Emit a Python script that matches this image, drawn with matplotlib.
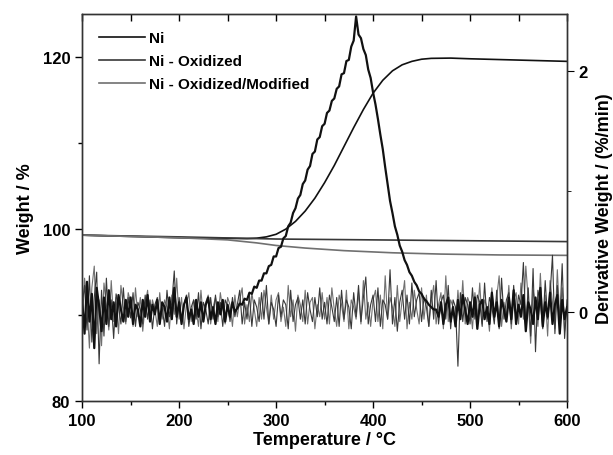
import numpy as np
import matplotlib
matplotlib.use("Agg")
import matplotlib.pyplot as plt
from matplotlib.ticker import MultipleLocator

plt.rcParams['font.family'] = ['Liberation Sans', 'DejaVu Sans']
plt.rcParams['font.weight'] = 'bold'
plt.rcParams['axes.labelweight'] = 'bold'

# ---- weight curves (left axis) ----
temp_ni = [100, 150, 200, 250, 270, 280, 290, 300, 310, 320, 330, 340, 350, 360, 370,
           380, 390, 400, 410, 420, 430, 440, 450, 460, 480, 500, 550, 600]
weight_ni = [99.3, 99.15, 99.0, 98.92, 98.9, 98.95, 99.1, 99.4, 100.0, 100.9, 102.1,
             103.6, 105.4, 107.4, 109.6, 111.8, 113.9, 115.8, 117.3, 118.4, 119.1,
             119.5, 119.75, 119.85, 119.88, 119.8, 119.65, 119.5]

temp_ox = [100, 200, 300, 400, 500, 600]
weight_ox = [99.3, 99.1, 98.85, 98.75, 98.65, 98.55]

temp_mod = [100, 150, 200, 250, 280, 300, 330, 370, 420, 470, 530, 600]
weight_mod = [99.3, 99.15, 99.0, 98.75, 98.4, 98.1, 97.8, 97.5, 97.25, 97.1, 97.0, 96.95]

# ---- derivative curves (right axis), sampled every 2.5 C from 100 to 600 ----
deriv_temp = np.linspace(100, 600, 201)

deriv_ni = [
    # 100 - 257.5
    0.10, -0.18, 0.25, -0.08, 0.15, -0.30, 0.20, 0.05, -0.16, 0.12,
    -0.10, 0.18, -0.06, 0.08, -0.12, 0.14, 0.02, -0.08, 0.10, -0.04,
    0.12, -0.10, 0.06, 0.02, -0.12, 0.10, -0.04, 0.14, -0.08, 0.06,
    -0.02, 0.10, -0.10, 0.08, 0.04, -0.08, 0.12, -0.06, 0.20, -0.04,
    0.08, -0.10, 0.06, 0.12, -0.06, 0.02, -0.10, 0.10, -0.04, 0.08,
    -0.08, 0.06, 0.12, -0.06, 0.04, -0.10, 0.08, -0.02, 0.10, -0.08,
    0.06, -0.04, 0.08, 0.00,
    # 260 - 465 (oxidation peak)
    0.03, 0.07, 0.06, 0.11, 0.10, 0.16, 0.15, 0.21, 0.20, 0.26,
    0.26, 0.32, 0.32, 0.38, 0.39, 0.46, 0.46, 0.53, 0.54, 0.61,
    0.63, 0.71, 0.74, 0.82, 0.86, 0.94, 0.97, 1.06, 1.09, 1.18,
    1.21, 1.31, 1.33, 1.43, 1.45, 1.54, 1.56, 1.65, 1.67, 1.75,
    1.77, 1.85, 1.87, 1.97, 1.98, 2.08, 2.09, 2.20, 2.25, 2.45,
    2.30, 2.27, 2.18, 2.13, 2.01, 1.94, 1.82, 1.72, 1.60, 1.47,
    1.35, 1.20, 1.06, 0.92, 0.82, 0.71, 0.64, 0.55, 0.50, 0.43,
    0.39, 0.33, 0.30, 0.25, 0.22, 0.17, 0.15, 0.11, 0.09, 0.06,
    0.04, 0.02, 0.02,
    # 467.5 - 600
    -0.04, 0.08, -0.10, 0.06, 0.12, -0.08, 0.04, -0.12, 0.10, -0.06,
    0.14, 0.02, -0.10, 0.08, -0.04, 0.12, -0.14, 0.06, 0.10, -0.06,
    0.04, -0.10, 0.16, -0.04, 0.08, -0.12, 0.10, 0.02, -0.08, 0.12,
    -0.06, 0.18, -0.10, 0.06, -0.04, 0.14, -0.16, 0.08, 0.02, -0.10,
    0.12, -0.06, 0.20, -0.12, 0.08, -0.04, 0.16, -0.10, 0.06, 0.14,
    -0.18, 0.10, -0.06, 0.04,
]

deriv_ox = [
    0.05, 0.22, -0.15, 0.30, -0.25, 0.12, 0.33, -0.43, 0.18, -0.20, 0.28, -0.12, 0.10, -0.22, 0.15, 0.05, -0.10, 0.20, -0.08, 0.12,
    -0.05, 0.16, -0.12, 0.08, 0.02, -0.10, 0.14, -0.06, 0.10, -0.14, 0.06, 0.12, -0.08, 0.04, -0.12, 0.18, -0.04, 0.08, 0.34, -0.10,
    0.12, -0.08, 0.06, 0.14, -0.12, 0.04, 0.10, -0.06, 0.16, -0.14, 0.08, 0.02, -0.10, 0.12, -0.06, 0.14, -0.04, 0.08, -0.12, 0.10,
    0.05, -0.08, 0.12, -0.04, 0.06, 0.18, -0.10, 0.08, -0.06, 0.14, -0.12, 0.10, 0.04, -0.08, 0.16, -0.06, 0.22, -0.10, 0.08, 0.02,
    -0.12, 0.14, -0.04, 0.10, 0.06, -0.14, 0.18, -0.08, 0.06, 0.12, -0.06, 0.10, -0.10, 0.16, 0.02, -0.08, 0.12, -0.04, 0.20, -0.06,
    0.08, -0.10, 0.14, 0.04, -0.08, 0.12, -0.12, 0.18, -0.06, 0.10, 0.04, -0.14, 0.16, -0.04, 0.22, -0.08, 0.12, 0.29, -0.10, 0.06,
    0.14, -0.08, 0.20, -0.12, 0.10, 0.06, -0.06, 0.35, -0.10, 0.12, -0.16, 0.08, 0.18, -0.06, 0.14, -0.10, 0.24, -0.04, 0.10, 0.16,
    -0.08, 0.12, 0.04, -0.12, 0.18, -0.06, 0.26, -0.10, 0.08, 0.14, -0.06, 0.22, -0.14, 0.10, 0.04, -0.45, 0.16, -0.08, 0.12, 0.06,
    -0.10, 0.20, -0.06, 0.14, 0.08, -0.12, 0.24, -0.08, 0.12, 0.04, -0.10, 0.18, -0.14, 0.28, -0.06, 0.10, 0.16, -0.10, 0.22, -0.08,
    0.14, 0.06, 0.41, -0.12, 0.20, -0.20, 0.36, -0.33, 0.18, 0.08, -0.14, 0.26, -0.06, 0.14, 0.47, -0.18, 0.22, -0.10, 0.40, -0.22, 0.10,
]

deriv_mod = [
    -0.10, 0.28, 0.08, -0.30, 0.20, 0.38, -0.18, 0.10, -0.28, 0.24, 0.06, -0.15, 0.26, -0.08, 0.12, -0.18, 0.22, 0.04, -0.10, 0.16,
    0.08, -0.12, 0.20, -0.04, 0.12, -0.16, 0.06, 0.18, -0.08, 0.10, 0.02, -0.12, 0.16, -0.06, 0.10, 0.04, -0.14, 0.14, -0.02, 0.28,
    -0.06, 0.12, -0.14, 0.06, 0.16, -0.08, 0.10, 0.02, -0.12, 0.18, -0.06, 0.08, 0.14, -0.10, 0.04, 0.12, -0.08, 0.16, 0.02, -0.10,
    0.12, 0.06, -0.12, 0.14, -0.04, 0.10, 0.20, -0.10, 0.06, -0.08, 0.16, 0.02, -0.12, 0.12, -0.06, 0.18, 0.04, -0.10, 0.14, -0.06,
    0.10, 0.16, -0.08, 0.04, -0.12, 0.22, -0.04, 0.10, -0.16, 0.14, 0.06, -0.08, 0.18, -0.10, 0.08, 0.12, -0.14, 0.06, -0.04, 0.16,
    -0.06, 0.12, -0.10, 0.20, 0.02, -0.12, 0.14, 0.06, -0.08, 0.18, -0.14, 0.10, 0.04, -0.06, 0.16, -0.10, 0.26, -0.06, 0.08, -0.12,
    0.10, 0.18, -0.08, 0.14, -0.14, 0.30, -0.06, 0.12, 0.04, -0.12, 0.22, -0.08, 0.10, 0.26, -0.14, 0.08, -0.06, 0.18, 0.02, -0.10,
    0.20, -0.06, 0.14, -0.12, 0.08, 0.22, -0.10, 0.06, 0.16, -0.14, 0.30, -0.08, 0.10, 0.04, -0.12, 0.18, -0.06, 0.26, -0.10, 0.12,
    0.06, -0.14, 0.16, -0.04, 0.24, -0.10, 0.10, 0.04, -0.16, 0.20, -0.06, 0.12, 0.30, -0.12, 0.08, -0.04, 0.22, -0.14, 0.10, 0.16,
    -0.10, 0.24, -0.06, 0.38, 0.10, -0.26, 0.18, 0.06, -0.12, 0.32, -0.08, 0.14, -0.20, 0.26, 0.08, -0.14, 0.35, -0.06, 0.20, -0.16, 0.06,
]

labels = ["Ni", "Ni - Oxidized", "Ni - Oxidized/Modified"]
colors = ["#111111", "#383838", "#707070"]

fig = plt.figure(figsize=(6.13, 4.56), dpi=100)
ax = fig.add_axes([0.134, 0.118, 0.791, 0.849])
ax2 = ax.twinx()

# derivative traces (right axis)
ax2.plot(deriv_temp, deriv_mod, color=colors[2], lw=0.8)
ax2.plot(deriv_temp, deriv_ox, color=colors[1], lw=0.8)
ax2.plot(deriv_temp, deriv_ni, color=colors[0], lw=1.6)

# weight traces (left axis)
ax.plot(temp_ni, weight_ni, color=colors[0], lw=1.2, label=labels[0])
ax.plot(temp_ox, weight_ox, color=colors[1], lw=1.2, label=labels[1])
ax.plot(temp_mod, weight_mod, color=colors[2], lw=1.2, label=labels[2])

ax.set_xlim(100, 600)
ax.set_ylim(80, 125)
ax2.set_ylim(-0.74, 2.47)

ax.xaxis.set_major_locator(MultipleLocator(100))
ax.xaxis.set_minor_locator(MultipleLocator(50))
ax.yaxis.set_major_locator(MultipleLocator(20))
ax.yaxis.set_minor_locator(MultipleLocator(10))
ax2.yaxis.set_major_locator(MultipleLocator(2))
ax2.yaxis.set_minor_locator(MultipleLocator(1))

ax.tick_params(which='both', direction='out', labelsize=12, width=1.0)
ax.tick_params(which='major', length=5)
ax.tick_params(which='minor', length=3)
ax2.tick_params(which='major', direction='out', length=5, labelsize=12)
ax2.tick_params(which='minor', direction='out', length=3)

# top axis ticks point inward
ax.xaxis.set_tick_params(which='both', top=True)
for t in ax.xaxis.get_major_ticks() + ax.xaxis.get_minor_ticks():
    t.tick2line.set_marker(3)
    t.tick2line.set_markersize(5)

for a in (ax, ax2):
    for s in a.spines.values():
        s.set_linewidth(1.0)
        s.set_color('#333333')

ax.set_xlabel("Temperature / °C", fontsize=13, labelpad=2)
ax.set_ylabel("Weight / %", fontsize=13, labelpad=6)
ax2.set_ylabel("Derivative Weight / (%/min)", fontsize=13, labelpad=6)

ax.legend(loc='upper left', frameon=False, handlelength=3.0,
          handletextpad=0.3, labelspacing=0.6, borderaxespad=0.7,
          prop={'weight': 'bold', 'size': 11})

fig.savefig("out.png", dpi=100)
